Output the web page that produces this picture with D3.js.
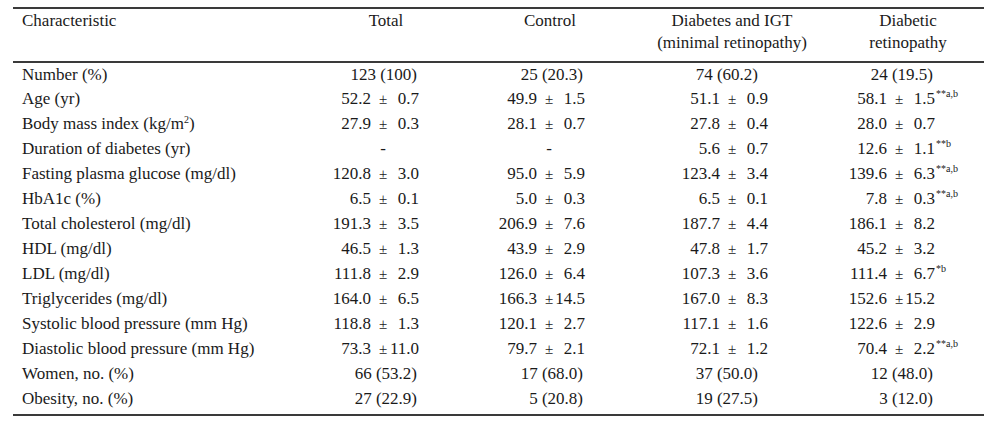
<!DOCTYPE html>
<html>
<head>
<meta charset="utf-8">
<script src="https://cdn.jsdelivr.net/npm/d3@7"></script>
<style>
  html, body { margin: 0; padding: 0; background: #fff; }
  svg { display: block; }
  text { font-family: "Liberation Serif", "Times New Roman", serif; fill: #1a1a1a; }
</style>
</head>
<body>
<div id="chart"></div>
<script>
// ---- data ----
const headers = ["Characteristic", "Total", "Control", "Diabetes and IGT|(minimal retinopathy)", "Diabetic|retinopathy"];
const characteristics = [
  "Number (%)", "Age (yr)", "Body mass index (kg/m^2)", "Duration of diabetes (yr)",
  "Fasting plasma glucose (mg/dl)", "HbA1c (%)", "Total cholesterol (mg/dl)", "HDL (mg/dl)",
  "LDL (mg/dl)", "Triglycerides (mg/dl)", "Systolic blood pressure (mm Hg)",
  "Diastolic blood pressure (mm Hg)", "Women, no. (%)", "Obesity, no. (%)"
];
const totalValues = ["123 (100)", "52.2 ± 0.7", "27.9 ± 0.3", "-", "120.8 ± 3.0", "6.5 ± 0.1",
  "191.3 ± 3.5", "46.5 ± 1.3", "111.8 ± 2.9", "164.0 ± 6.5", "118.8 ± 1.3", "73.3 ± 11.0",
  "66 (53.2)", "27 (22.9)"];
const controlValues = ["25 (20.3)", "49.9 ± 1.5", "28.1 ± 0.7", "-", "95.0 ± 5.9", "5.0 ± 0.3",
  "206.9 ± 7.6", "43.9 ± 2.9", "126.0 ± 6.4", "166.3 ± 14.5", "120.1 ± 2.7", "79.7 ± 2.1",
  "17 (68.0)", "5 (20.8)"];
const digtValues = ["74 (60.2)", "51.1 ± 0.9", "27.8 ± 0.4", "5.6 ± 0.7", "123.4 ± 3.4", "6.5 ± 0.1",
  "187.7 ± 4.4", "47.8 ± 1.7", "107.3 ± 3.6", "167.0 ± 8.3", "117.1 ± 1.6", "72.1 ± 1.2",
  "37 (50.0)", "19 (27.5)"];
const drValues = ["24 (19.5)", "58.1 ± 1.5", "28.0 ± 0.7", "12.6 ± 1.1", "139.6 ± 6.3", "7.8 ± 0.3",
  "186.1 ± 8.2", "45.2 ± 3.2", "111.4 ± 6.7", "152.6 ± 15.2", "122.6 ± 2.9", "70.4 ± 2.2",
  "12 (48.0)", "3 (12.0)"];
const drNotes = ["", "**a,b", "", "**b", "**a,b", "**a,b", "", "", "*b", "", "", "**a,b", "", ""];

const valueColumns = [totalValues, controlValues, digtValues, drValues];
const noteColumns = [null, null, null, drNotes];

// ---- layout ----
const W = 1000, H = 424;
const svg = d3.select("#chart").append("svg").attr("width", W).attr("height", H);

const y = d3.scalePoint().domain(characteristics).range([74, 398]);
const colKeys = headers.slice(1);
const meanX = d3.scaleOrdinal().domain(colKeys).range([371, 537, 720, 887]);
const headX = d3.scaleOrdinal().domain(colKeys).range([386, 550, 732, 908]);
const countX = d3.scaleOrdinal().domain(colKeys).range([417, 583, 758, 933]);
const PM = 12, SD = 48;
const FS = 17, base = 5.5;

// rules
const rules = [
  { y: 8, w: 1.8 }, { y: 62, w: 1.8 }, { y: 415, w: 1.8 }
];
svg.selectAll("line.rule").data(rules).join("line")
  .attr("class", "rule")
  .attr("x1", 13).attr("x2", 984)
  .attr("y1", d => d.y).attr("y2", d => d.y)
  .attr("stroke", "#3a3a3a").attr("stroke-width", d => d.w);

// headers
svg.append("text").attr("x", 22).attr("y", 26).attr("font-size", FS).text(headers[0]);
colKeys.forEach(k => {
  const lines = k.split("|");
  lines.forEach((ln, i) => {
    svg.append("text")
      .attr("x", headX(k)).attr("y", 26 + i * 22)
      .attr("text-anchor", "middle").attr("font-size", FS).text(ln);
  });
});

// row labels
svg.selectAll("text.rowlab").data(characteristics).join("text")
  .attr("class", "rowlab")
  .attr("x", 22).attr("y", d => y(d) + base).attr("font-size", FS)
  .each(function(d) {
    const t = d3.select(this);
    if (d.includes("^")) {
      const [a, rest] = d.split("^");
      t.append("tspan").text(a);
      t.append("tspan").attr("font-size", 10).attr("dy", -6).text(rest[0]);
      t.append("tspan").attr("dy", 6).text(rest.slice(1));
    } else t.text(d);
  });

// values
colKeys.forEach((k, ci) => {
  const vals = valueColumns[ci];
  const notes = noteColumns[ci];
  const g = svg.append("g");
  vals.forEach((v, ri) => {
    const yy = y(characteristics[ri]) + base;
    const mx = meanX(k);
    if (v === "-") {
      g.append("text").attr("x", mx + PM).attr("y", yy).attr("text-anchor", "middle")
        .attr("font-size", FS).text("-");
    } else if (v.includes("±")) {
      const [m, s] = v.split("±").map(x => x.trim());
      g.append("text").attr("x", mx).attr("y", yy).attr("text-anchor", "end")
        .attr("font-size", FS).text(m);
      g.append("text").attr("x", mx + PM).attr("y", yy).attr("text-anchor", "middle")
        .attr("font-size", FS - 2).text("±");
      g.append("text").attr("x", mx + SD).attr("y", yy).attr("text-anchor", "end")
        .attr("font-size", FS).text(s);
      if (notes && notes[ri]) {
        g.append("text").attr("x", mx + SD + 1).attr("y", yy - 7)
          .attr("font-size", 10).text(notes[ri]);
      }
    } else {
      g.append("text").attr("x", countX(k)).attr("y", yy).attr("text-anchor", "end")
        .attr("font-size", FS).text(v);
    }
  });
});
</script>
</body>
</html>
